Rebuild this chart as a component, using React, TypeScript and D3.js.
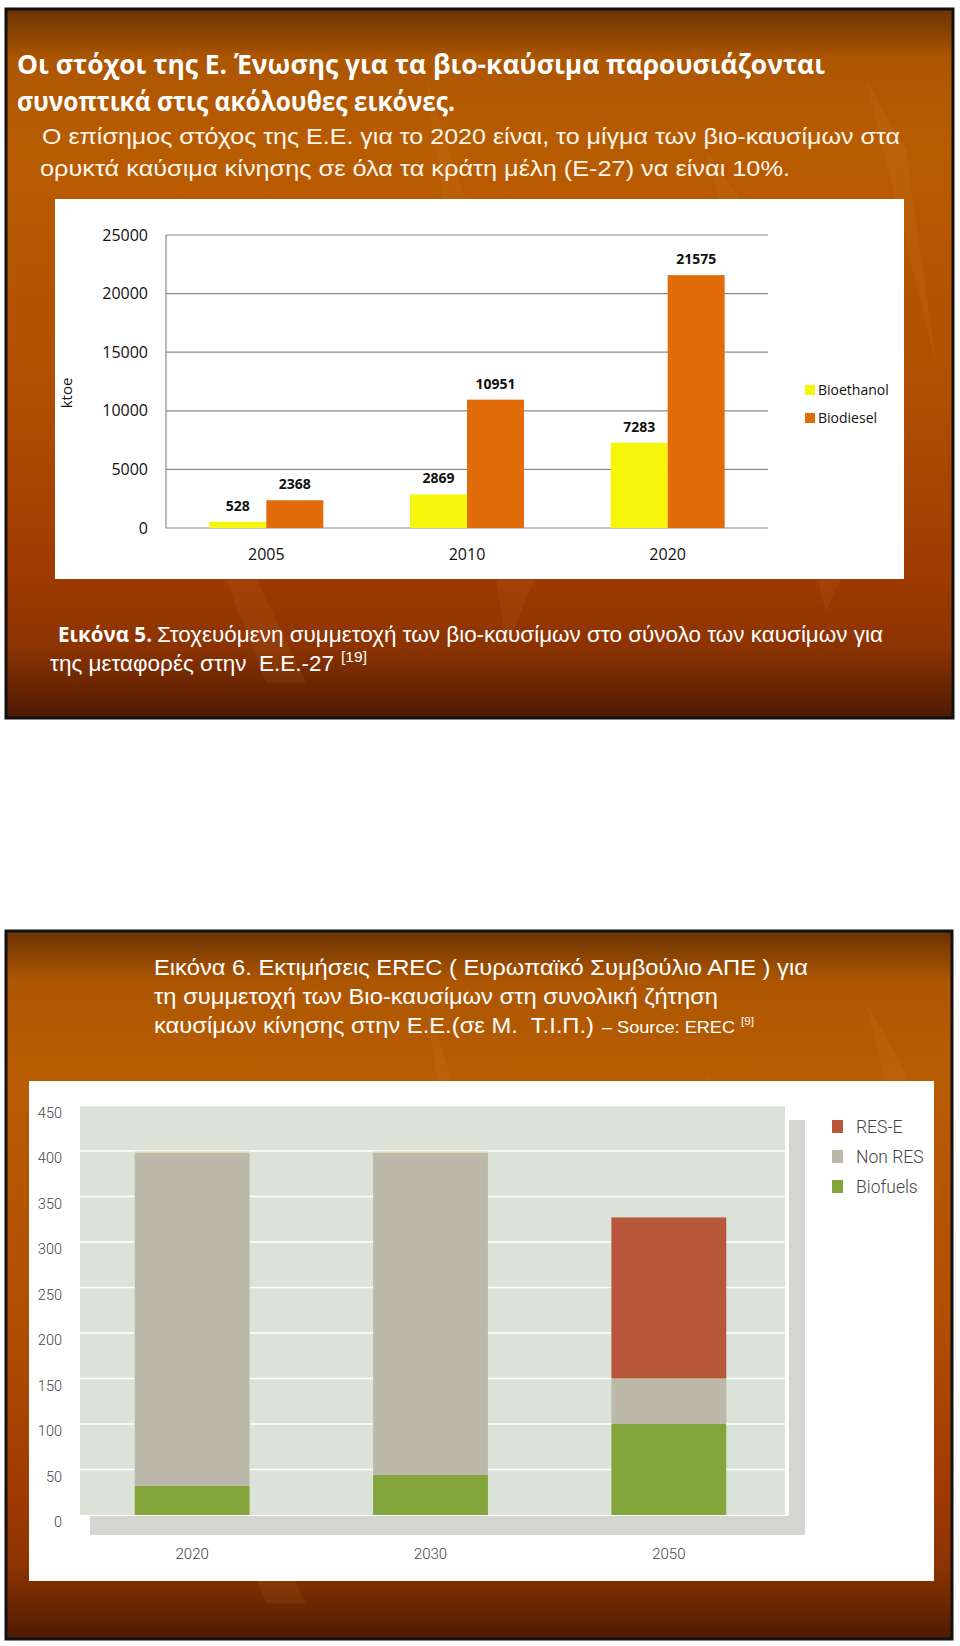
import React, { useEffect } from "react";
import * as d3 from "d3";

// ---------- Chart 1 data (Εικόνα 5) ----------
const years1 = ["2005", "2010", "2020"];
const series1 = ["Bioethanol", "Biodiesel"];
const bioethanol = [528, 2869, 7283];
const biodiesel = [2368, 10951, 21575];
const ticks1 = [0, 5000, 10000, 15000, 20000, 25000];
const colors1 = ["#f7f50c", "#e36c0a"];

// ---------- Chart 2 data (Εικόνα 6) ----------
const years2 = ["2020", "2030", "2050"];
const stackKeys = ["Biofuels", "Non RES", "RES-E"];
const biofuels = [32, 44, 100];
const nonRes = [366, 354, 50];
const resE = [0, 0, 177];
const topEdge = [1.5, 1.5, 0];
const ticks2 = [0, 50, 100, 150, 200, 250, 300, 350, 400, 450];
const legend2 = ["RES-E", "Non RES", "Biofuels"];
const colors2: Record<string, string> = {
  "RES-E": "#b9573a",
  "Non RES": "#bdb9aa",
  Biofuels: "#84a53b",
};

// ---------- Text ----------
const title1 = "Οι στόχοι της Ε. Ένωσης για τα βιο-καύσιμα παρουσιάζονται";
const title2 = "συνοπτικά στις ακόλουθες εικόνες.";
const intro1 = "Ο επίσημος στόχος της Ε.Ε. για το 2020 είναι, το μίγμα των βιο-καυσίμων στα";
const intro2 = "ορυκτά καύσιμα κίνησης σε όλα τα κράτη μέλη (Ε-27) να είναι 10%.";
const cap5a = "Εικόνα 5.";
const cap5b = "Στοχευόμενη συμμετοχή των βιο-καυσίμων στο σύνολο των καυσίμων για";
const cap5c = "της μεταφορές στην  Ε.Ε.-27";
const cap5ref = "[19]";
const cap6a = "Εικόνα 6. Εκτιμήσεις EREC ( Ευρωπαϊκό Συμβούλιο ΑΠΕ ) για";
const cap6b = "τη συμμετοχή των Βιο-καυσίμων στη συνολική ζήτηση";
const cap6c = "καυσίμων κίνησης στην Ε.Ε.(σε Μ.  Τ.Ι.Π.)";
const cap6d = "– Source: EREC";
const cap6ref = "[9]";

const CAL = "'Open Sans', 'DejaVu Sans', sans-serif";
const NARROW = "'Liberation Sans Narrow', 'Liberation Sans', Arial, sans-serif";
const HEL = "Roboto, 'Liberation Sans', sans-serif";
const PRE = { whiteSpace: "pre" as const };

function Panel({ id, x, y, w, h }: { id: string; x: number; y: number; w: number; h: number }) {
  return (
    <g>
      <defs>
        <linearGradient id={id} x1="0" y1="0" x2="0" y2="1">
          <stop offset="0" stopColor="#6a3202" />
          <stop offset="0.07" stopColor="#ad5602" />
          <stop offset="0.2" stopColor="#b85c02" />
          <stop offset="0.55" stopColor="#b04e02" />
          <stop offset="0.8" stopColor="#9e3a02" />
          <stop offset="0.9" stopColor="#8c3302" />
          <stop offset="1" stopColor="#4e1a02" />
        </linearGradient>
      </defs>
      <rect x={x} y={y} width={w} height={h} fill={`url(#${id})`} stroke="#111" strokeWidth={3} />
      <g opacity={0.07} fill="#f5b060">
        <path d={`M${x + 80},${y + h * 0.3} L${x + 300},${y + h * 0.95} L${x + 260},${y + h * 0.95} Z`} />
        <path d={`M${x + 420},${y + h * 0.1} L${x + 560},${y + h * 0.7} L${x + 500},${y + h * 0.9} Z`} />
        <path d={`M${x + 700},${y + h * 0.2} L${x + 900},${y + h * 0.6} L${x + 820},${y + h * 0.85} Z`} />
        <path d={`M${x + 860},${y + h * 0.1} L${x + 930},${y + h * 0.5} L${x + 900},${y + h * 0.2} Z`} />
      </g>
    </g>
  );
}

function Chart1() {
  const x = d3.scaleBand<string>().domain(years1).range([166, 768]);
  const groupW = x.bandwidth() * 0.568;
  const sub = d3.scaleBand<string>().domain(series1).range([0, groupW]);
  const y = d3.scaleLinear().domain([0, 25000]).range([528, 235]);
  const vals = [bioethanol, biodiesel];
  return (
    <g>
      <rect x={55} y={199} width={849} height={380} fill="#ffffff" />
      {ticks1.map((t) => (
        <g key={t}>
          <line x1={166} x2={768} y1={y(t)} y2={y(t)} stroke="#8a8a8a" strokeWidth={1.2} />
          <text x={148} y={y(t)} dy="0.35em" textAnchor="end" fontFamily={CAL} fontSize={16} fill="#111">
            {t}
          </text>
        </g>
      ))}
      <line x1={166} x2={166} y1={y(25000)} y2={y(0)} stroke="#8a8a8a" strokeWidth={1.2} />
      {years1.map((yr, i) => {
        const gx = (x(yr) as number) + (x.bandwidth() - groupW) / 2;
        return (
          <g key={yr}>
            {series1.map((s, j) => {
              const v = vals[j][i];
              const bx = gx + (sub(s) as number);
              return (
                <g key={s}>
                  <rect x={bx} y={y(v)} width={sub.bandwidth()} height={y(0) - y(v)} fill={colors1[j]} />
                  <text
                    x={bx + sub.bandwidth() / 2}
                    y={y(v) - 11}
                    textAnchor="middle"
                    fontFamily={CAL}
                    fontWeight="bold"
                    fontSize={14}
                    fill="#111"
                  >
                    {v}
                  </text>
                </g>
              );
            })}
            <text
              x={(x(yr) as number) + x.bandwidth() / 2}
              y={554}
              dy="0.35em"
              textAnchor="middle"
              fontFamily={CAL}
              fontSize={16}
              fill="#111"
            >
              {yr}
            </text>
          </g>
        );
      })}
      <text
        transform="translate(67,393) rotate(-90)"
        textAnchor="middle"
        dy="0.35em"
        fontFamily={CAL}
        fontSize={15}
        fill="#111"
      >
        ktoe
      </text>
      {series1.map((s, j) => (
        <g key={s}>
          <rect x={805} y={385 + j * 28} width={10} height={10} fill={colors1[j]} />
          <text x={818} y={390 + j * 28} dy="0.35em" fontFamily={CAL} fontSize={14} fill="#111">
            {s}
          </text>
        </g>
      ))}
    </g>
  );
}

function Chart2() {
  const x = d3.scaleBand<string>().domain(years2).range([73, 788]);
  const barW = x.bandwidth() * 0.482;
  const y = d3.scaleLinear().domain([0, 450]).range([1515, 1105.5]);
  const table = years2.map((yr, i) => ({
    year: yr,
    Biofuels: biofuels[i],
    "Non RES": nonRes[i],
    "RES-E": resE[i],
  }));
  const stacked = d3.stack<any>().keys(stackKeys)(table);
  return (
    <g>
      <rect x={29} y={1081} width={905} height={500} fill="#ffffff" />
      {/* shadow strips */}
      <rect x={789} y={1120} width={16} height={415} fill="#d5d5d1" />
      <rect x={90} y={1516} width={715} height={19} fill="#d5d5d1" />
      <rect x={80} y={y(450)} width={705} height={y(0) - y(450)} fill="#dbe2d8" />
      {ticks2.map((t) => (
        <g key={t}>
          {t > 0 && <line x1={80} x2={785} y1={y(t)} y2={y(t)} stroke="#ffffff" strokeWidth={1.5} />}
          <text
            x={62}
            y={y(t) + 7}
            dy="0.35em"
            textAnchor="end"
            fontFamily={HEL}
            fontWeight={300}
            fontSize={14.5}
            fill="#444"
          >
            {t}
          </text>
        </g>
      ))}
      {stacked.map((layer) => (
        <g key={layer.key} fill={colors2[layer.key]}>
          {layer.map((d, i) => (
            <rect
              key={i}
              x={(x(years2[i]) as number) + (x.bandwidth() - barW) / 2}
              y={y(d[1])}
              width={barW}
              height={Math.max(0, y(d[0]) - y(d[1]))}
            />
          ))}
        </g>
      ))}
      {years2.map((yr, i) => {
        const top = biofuels[i] + nonRes[i] + resE[i];
        return topEdge[i] > 0 ? (
          <rect
            key={"e" + yr}
            x={(x(yr) as number) + (x.bandwidth() - barW) / 2}
            y={y(top + topEdge[i])}
            width={barW}
            height={y(top) - y(top + topEdge[i])}
            fill="#e6d49a"
          />
        ) : null;
      })}
      {years2.map((yr) => (
        <text
          key={yr}
          x={(x(yr) as number) + x.bandwidth() / 2}
          y={1554}
          dy="0.35em"
          textAnchor="middle"
          fontFamily={HEL}
          fontWeight={300}
          fontSize={15}
          fill="#444"
        >
          {yr}
        </text>
      ))}
      {legend2.map((k, i) => (
        <g key={k}>
          <rect x={832} y={1120 + i * 30} width={11} height={13} fill={colors2[k]} />
          <text
            x={856}
            y={1127 + i * 30}
            dy="0.35em"
            fontFamily={HEL}
            fontWeight={300}
            fontSize={17.5}
            fill="#444"
          >
            {k}
          </text>
        </g>
      ))}
    </g>
  );
}

export default function App() {
  useEffect(() => {
    document.body.style.margin = "0";
  }, []);
  return (
    <svg width={960} height={1646} viewBox="0 0 960 1646" style={{ display: "block" }}>
      <rect x={0} y={0} width={960} height={1646} fill="#ffffff" />
      <Panel id="p1" x={6} y={9} w={947} h={709} />
      <Panel id="p2" x={6} y={931} w={946} h={708} />

      {/* Panel 1 texts */}
      <g fill="#ffffff">
        <text x={17} y={74} fontFamily={CAL} fontWeight="bold" fontSize={26} textLength={808} lengthAdjust="spacingAndGlyphs">
          {title1}
        </text>
        <text x={17} y={111} fontFamily={CAL} fontWeight="bold" fontSize={26} textLength={438} lengthAdjust="spacingAndGlyphs">
          {title2}
        </text>
        <text x={42} y={144} fontFamily={NARROW} fontSize={22} textLength={858} lengthAdjust="spacingAndGlyphs" fill="#fff6e8">
          {intro1}
        </text>
        <text x={40} y={176} fontFamily={NARROW} fontSize={22} textLength={750} lengthAdjust="spacingAndGlyphs" fill="#fff6e8">
          {intro2}
        </text>
        <text x={58} y={642} fontFamily={CAL} fontWeight="bold" fontSize={21} textLength={94} lengthAdjust="spacingAndGlyphs">
          {cap5a}
        </text>
        <text x={157} y={642} fontFamily={NARROW} fontSize={22} textLength={726} lengthAdjust="spacingAndGlyphs">
          {cap5b}
        </text>
        <text x={50} y={671} fontFamily={NARROW} fontSize={22} textLength={284} lengthAdjust="spacingAndGlyphs" style={PRE}>
          {cap5c}
        </text>
        <text x={341} y={662} fontFamily={NARROW} fontSize={14} textLength={26} lengthAdjust="spacingAndGlyphs">
          {cap5ref}
        </text>
      </g>
      <Chart1 />

      {/* Panel 2 texts */}
      <g fill="#ffffff">
        <text x={154} y={975} fontFamily={NARROW} fontSize={22} textLength={654} lengthAdjust="spacingAndGlyphs">
          {cap6a}
        </text>
        <text x={154} y={1004} fontFamily={NARROW} fontSize={22} textLength={564} lengthAdjust="spacingAndGlyphs">
          {cap6b}
        </text>
        <text x={154} y={1033} fontFamily={NARROW} fontSize={22} textLength={440} lengthAdjust="spacingAndGlyphs" style={PRE}>
          {cap6c}
        </text>
        <text x={602} y={1033} fontFamily={NARROW} fontSize={16} textLength={133} lengthAdjust="spacingAndGlyphs">
          {cap6d}
        </text>
        <text x={741} y={1025} fontFamily={NARROW} fontSize={11} textLength={13} lengthAdjust="spacingAndGlyphs">
          {cap6ref}
        </text>
      </g>
      <Chart2 />
    </svg>
  );
}
